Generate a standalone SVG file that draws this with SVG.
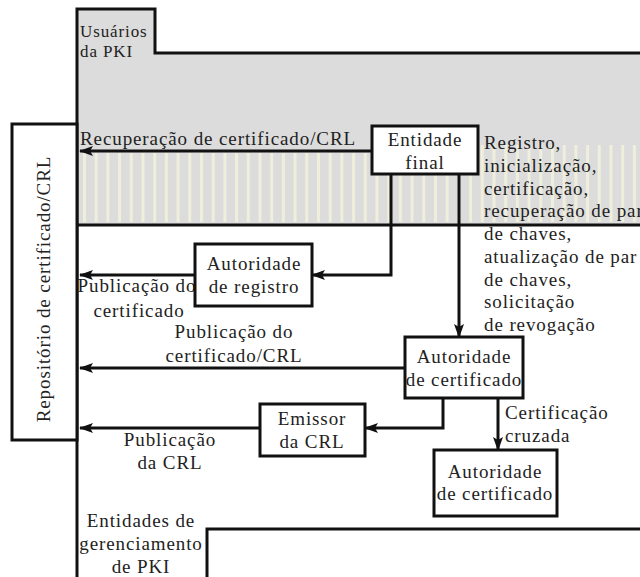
<svg xmlns="http://www.w3.org/2000/svg" width="640" height="577" viewBox="0 0 640 577" font-family="'Liberation Serif', 'DejaVu Serif', serif">
<style>
text{font-family:'Liberation Serif','DejaVu Serif',serif;font-size:19px;fill:#222;letter-spacing:0.9px}
.c{text-anchor:middle}
.box{fill:#fff;stroke:#111;stroke-width:3}
.ln{fill:none;stroke:#111;stroke-width:3}
.ar{fill:none;stroke:#111;stroke-width:3;marker-end:url(#ah)}
</style>
<defs>
<marker id="ah" markerUnits="userSpaceOnUse" markerWidth="14" markerHeight="10" refX="13" refY="5" orient="auto">
<path d="M0,0 L14,5 L0,10 L3,5 Z" fill="#111"/>
</marker>
<pattern id="stripes" patternUnits="userSpaceOnUse" x="83" y="0" width="11.7" height="10">
<rect x="0" y="0" width="11.7" height="10" fill="#dcdcdc"/>
<rect x="0" y="0" width="3" height="10" fill="#efefdc"/>
</pattern>
</defs>
<g id="background">
<path d="M77,9 H155 V53 H640 V225 H77 Z" fill="#dcdcdc"/>
<rect x="78" y="153" width="562" height="69" fill="url(#stripes)"/>
<rect x="478" y="145" width="162" height="9" fill="url(#stripes)"/>
<path class="ln" d="M77,577 V9 H155 V53 H640"/>
<path class="ln" d="M77,225 H640"/>
<path class="ln" d="M207,577 V529 H640"/>
<text x="80" y="37" style="font-size:17px">Usuários</text>
<text x="80" y="57" style="font-size:17px">da PKI</text>
<text class="c" x="141" y="527">Entidades de</text>
<text class="c" x="141" y="550">gerenciamento</text>
<text class="c" x="141" y="573">de PKI</text>
</g>
<g id="connectors">
<path class="ar" d="M372,151 H80"/>
<path class="ar" d="M391,174 V275 H312"/>
<path class="ar" d="M459,174 V337"/>
<path class="ar" d="M195,275 H80"/>
<path class="ar" d="M405,368 H80"/>
<path class="ar" d="M443,398 V428 H365"/>
<path class="ar" d="M498,398 V450"/>
<path class="ar" d="M260,428 H80"/>
<text x="80" y="145">Recuperação de certificado/CRL</text>
<text x="484" y="149">Registro,</text>
<text x="484" y="172">inicialização,</text>
<text x="484" y="195">certificação,</text>
<text x="484" y="217">recuperação de par</text>
<text x="484" y="240">de chaves,</text>
<text x="484" y="263">atualização de par</text>
<text x="484" y="286">de chaves,</text>
<text x="484" y="308">solicitação</text>
<text x="484" y="331">de revogação</text>
<text class="c" x="137" y="292">Publicação do</text>
<text class="c" x="139" y="317">certificado</text>
<text class="c" x="234" y="338">Publicação do</text>
<text class="c" x="234" y="362">certificado/CRL</text>
<text class="c" x="170" y="446">Publicação</text>
<text class="c" x="170" y="469">da CRL</text>
<text x="505" y="419">Certificação</text>
<text x="505" y="442">cruzada</text>
</g>
<g id="repositorio">
<rect class="box" x="12" y="124" width="65" height="316"/>
<text class="c" transform="translate(50,289) rotate(-90)">Repositório de certificado/CRL</text>
</g>
<g id="entidade-final">
<rect class="box" x="372" y="126" width="106" height="48"/>
<text class="c" x="425" y="146">Entidade</text>
<text class="c" x="425" y="169">final</text>
</g>
<g id="autoridade-registro">
<rect class="box" x="195" y="244" width="117" height="62"/>
<text class="c" x="254" y="270">Autoridade</text>
<text class="c" x="254" y="293">de registro</text>
</g>
<g id="autoridade-certificado">
<rect class="box" x="405" y="337" width="118" height="61"/>
<text class="c" x="464" y="363">Autoridade</text>
<text class="c" x="464" y="386">de certificado</text>
</g>
<g id="emissor-crl">
<rect class="box" x="260" y="404" width="105" height="52"/>
<text class="c" x="312" y="425">Emissor</text>
<text class="c" x="312" y="448">da CRL</text>
</g>
<g id="autoridade-certificado-2">
<rect class="box" x="434" y="450" width="123" height="66"/>
<text class="c" x="495" y="478">Autoridade</text>
<text class="c" x="495" y="500">de certificado</text>
</g>
</svg>
